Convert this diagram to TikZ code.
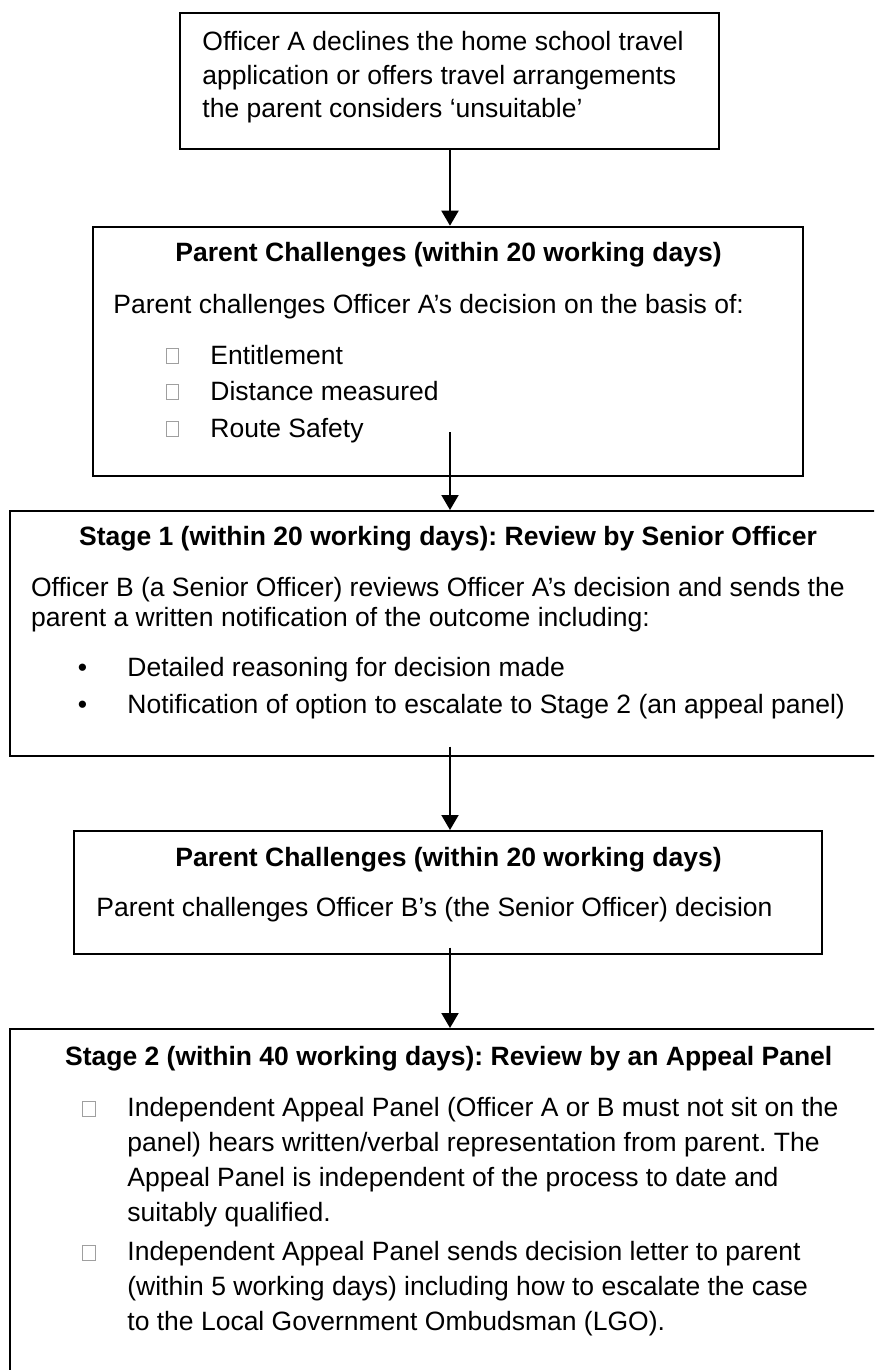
\documentclass[tikz,border=0pt]{standalone}
\usepackage{fontspec}
\setmainfont{Liberation Sans}
\usetikzlibrary{arrows.meta}
\frenchspacing
\begin{document}
\begin{tikzpicture}[x=0.5pt,y=-0.5pt,
  box/.style={draw=black,line width=1pt,inner sep=0pt,rectangle},
  txt/.style={anchor=base west,inner sep=0pt,font=\fontsize{13.25}{16}\selectfont},
  ttl/.style={anchor=base,inner sep=0pt,font=\fontsize{13.25}{16}\selectfont\bfseries},
  dot/.style={anchor=base,inner sep=0pt,font=\fontsize{13.25}{16}\selectfont},
  sq/.style={draw=gray!75,line width=0.5pt},
  arr/.style={line width=1pt,-{Triangle[length=7.5pt,width=8.5pt]}}]
\useasboundingbox (0,0) rectangle (874,1370);
\clip (0,0) rectangle (874,1370);
\fill[white] (0,0) rectangle (874,1370);

% boxes
\node[box,minimum width=269.75pt,minimum height=67.85pt] (b1) at (449.25,81.15) {};
\node[box,minimum width=355pt,minimum height=124.5pt] (b2) at (448,351.2) {};
\node[box,minimum width=435.25pt,minimum height=122.35pt] (b3) at (444.75,633.35) {};
\node[box,minimum width=374pt,minimum height=61.5pt] (b4) at (448,892.5) {};
\node[box,minimum width=437.25pt,minimum height=175.5pt] (b5) at (446.75,1204.5) {};

% box 1 text
\node[txt] (t11) at (202,51) {Officer A declines the home school travel};
\node[txt] (t12) at (202,84.5) {application or offers travel arrangements};
\node[txt] (t13) at (202,118) {the parent considers ‘unsuitable’};

% box 2 text
\node[ttl] (t20) at (448.5,261.7) {Parent Challenges (within 20 working days)};
\node[txt] (t21) at (113,313) {Parent challenges Officer A’s decision on the basis of:};
\node[txt] (t22) at (210,364) {Entitlement};
\node[txt] (t23) at (210,400) {Distance measured};
\node[txt] (t24) at (210,437) {Route Safety};
\draw[sq] (166,348) rectangle (178,363);
\draw[sq] (166,384) rectangle (178,399);
\draw[sq] (166,421) rectangle (178,436);

% box 3 text
\node[ttl] (t30) at (448,545) {Stage 1 (within 20 working days): Review by Senior Officer};
\node[txt] (t31) at (30.7,596.7) {Officer B (a Senior Officer) reviews Officer A’s decision and sends the};
\node[txt] (t32) at (30.7,626.7) {parent a written notification of the outcome including:};
\node[dot] (d31) at (82.5,676.7) {•};
\node[txt] (t33) at (127,676.7) {Detailed reasoning for decision made};
\node[dot] (d32) at (82.5,713.3) {•};
\node[txt] (t34) at (127,713.3) {Notification of option to escalate to Stage 2 (an appeal panel)};

% box 4 text
\node[ttl] (t40) at (448.5,866) {Parent Challenges (within 20 working days)};
\node[txt] (t41) at (96,916.7) {Parent challenges Officer B’s (the Senior Officer) decision};

% box 5 text
\node[ttl] (t50) at (448.7,1065) {Stage 2 (within 40 working days): Review by an Appeal Panel};
\draw[sq] (82,1101.5) rectangle (95,1116.5);
\node[txt] (t51) at (127,1116.7) {Independent Appeal Panel (Officer A or B must not sit on the};
\node[txt] (t52) at (127,1151.7) {panel) hears written/verbal representation from parent. The};
\node[txt] (t53) at (127,1186.7) {Appeal Panel is independent of the process to date and};
\node[txt] (t54) at (127,1221.7) {suitably qualified.};
\draw[sq] (82,1245) rectangle (95,1260);
\node[txt] (t55) at (127,1260) {Independent Appeal Panel sends decision letter to parent};
\node[txt] (t56) at (127,1295) {(within 5 working days) including how to escalate the case};
\node[txt] (t57) at (127,1330) {to the Local Government Ombudsman (LGO).};

% connectors
\coordinate (s1) at (450,149);
\coordinate (s2) at (450,432);
\coordinate (s3) at (450,746.7);
\coordinate (s4) at (450,947.7);
\draw[arr] (s1) -- (s1 |- b2.north);
\draw[arr] (s2) -- (s2 |- b3.north);
\draw[arr] (s3) -- (s3 |- b4.north);
\draw[arr] (s4) -- (s4 |- b5.north);
\end{tikzpicture}
\end{document}
